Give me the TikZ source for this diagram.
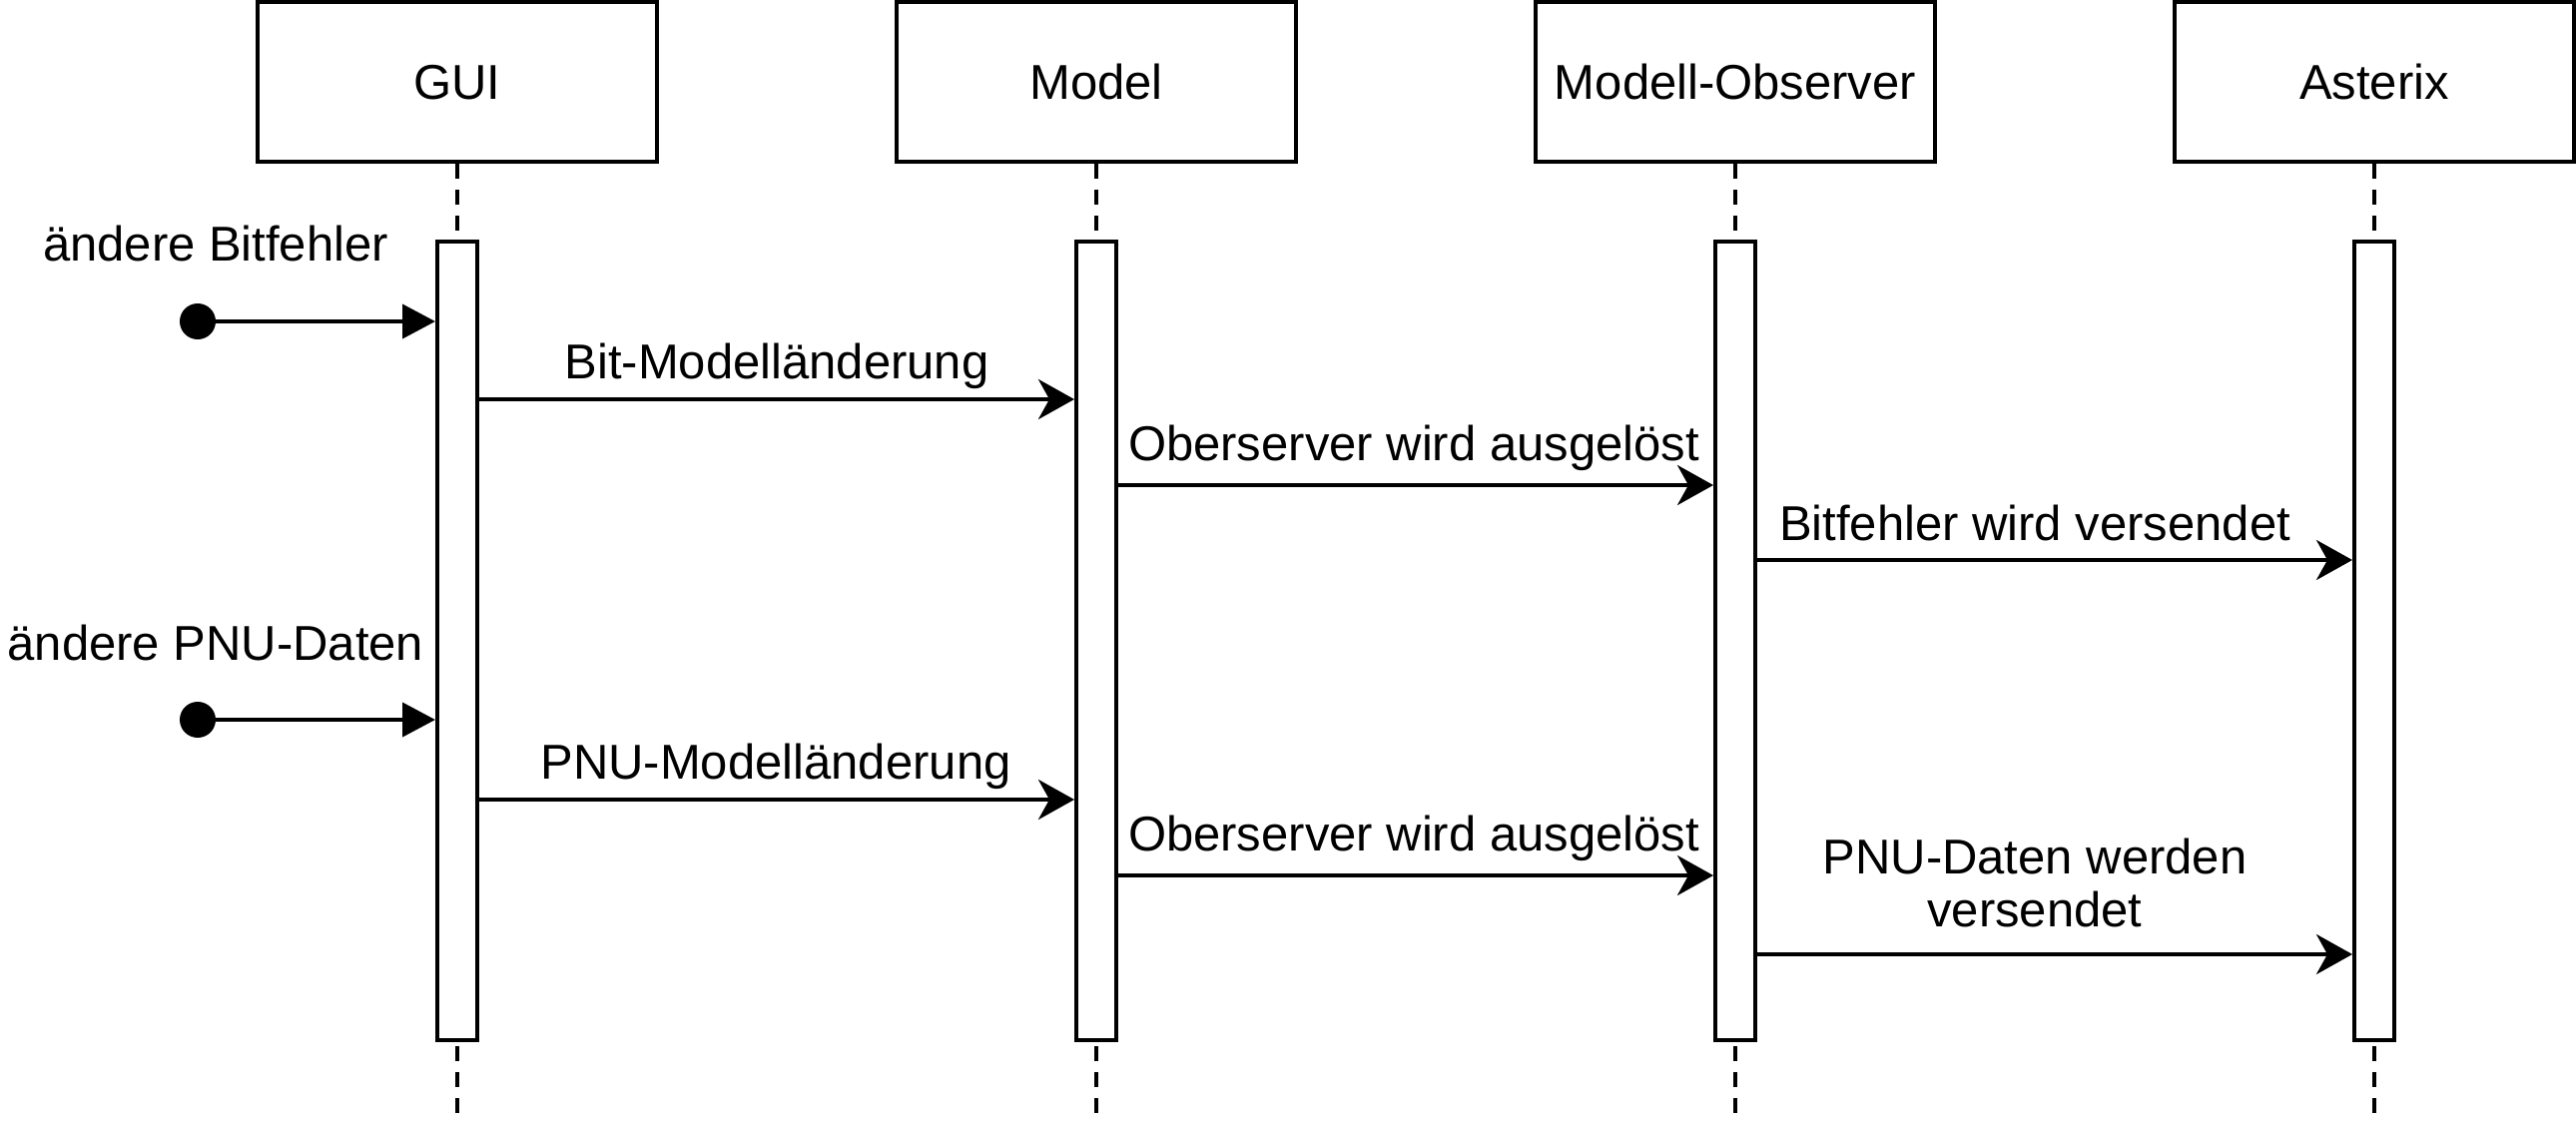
\documentclass[tikz,border=0pt]{standalone}
\usepackage{fontspec}
\setmainfont{Liberation Sans}
\usetikzlibrary{arrows.meta}
\begin{document}
\begin{tikzpicture}[x=0.5pt,y=-0.5pt,
  font=\fontsize{24.5pt}{26.5pt}\selectfont,
  lw/.style={line width=2pt},
  headbox/.style={draw, lw, rectangle, minimum width=200pt, minimum height=80pt, text height=17.5pt, text depth=0pt, inner sep=0pt},
  actbar/.style={draw, lw, fill=white, minimum width=20pt, minimum height=400pt, inner sep=0pt},
  lifeline/.style={lw, dash pattern=on 7.5pt off 5.5pt},
  foundpt/.style={circle, fill=black, minimum size=18pt, inner sep=0pt},
  found/.style={lw, -{Triangle[length=16.5pt,width=17pt]}},
  msg/.style={lw, -{Stealth[length=18pt,width=20pt,inset=5.5pt]}},
  lbl/.style={anchor=base, inner sep=0pt, align=center},
]
\useasboundingbox (0,0) rectangle (2580,1124);

% heads
\node[headbox] (gui) at (458,82) {GUI};
\node[headbox] (model) at (1098,82) {Model};
\node[headbox] (obs) at (1738,82) {Modell-Observer};
\node[headbox] (ast) at (2378,82) {Asterix};

% lifeline ends
\coordinate (guiend) at (458,1124);
\coordinate (modelend) at (1098,1124);
\coordinate (obsend) at (1738,1124);
\coordinate (astend) at (2378,1124);

\draw[lifeline] (gui.south) -- (guiend);
\draw[lifeline] (model.south) -- (modelend);
\draw[lifeline] (obs.south) -- (obsend);
\draw[lifeline] (ast.south) -- (astend);

% activation bars
\node[actbar] (guibar) at (458,642) {};
\node[actbar] (modelbar) at (1098,642) {};
\node[actbar] (obsbar) at (1738,642) {};
\node[actbar] (astbar) at (2378,642) {};

% found messages
\node[foundpt] (f1) at (198,322) {};
\node[foundpt] (f2) at (198,721) {};
\node[lbl] (fl1) at (216,261) {ändere Bitfehler};
\node[lbl] (fl2) at (216,661) {ändere PNU-Daten};
\draw[found] (f1) -- (guibar.west |- f1);
\draw[found] (f2) -- (guibar.west |- f2);

% messages
\draw[msg] (guibar.east |- 0,400) -- (modelbar.west |- 0,400);
\node[lbl] (l1) at (778,379) {Bit-Modelländerung};

\draw[msg] (modelbar.east |- 0,486) -- (obsbar.west |- 0,486);
\node[lbl] (l2) at (1416,461) {Oberserver wird ausgelöst};

\draw[msg] (obsbar.east |- 0,561) -- (astbar.west |- 0,561);
\node[lbl] (l3) at (2038,541) {Bitfehler wird versendet};

\draw[msg] (guibar.east |- 0,801) -- (modelbar.west |- 0,801);
\node[lbl] (l4) at (777,780) {PNU-Modelländerung};

\draw[msg] (modelbar.east |- 0,877) -- (obsbar.west |- 0,877);
\node[lbl] (l5) at (1416,852) {Oberserver wird ausgelöst};

\draw[msg] (obsbar.east |- 0,956) -- (astbar.west |- 0,956);
\node[lbl] (l6) at (2038,928) {PNU-Daten werden\\versendet};
\end{tikzpicture}
\end{document}
